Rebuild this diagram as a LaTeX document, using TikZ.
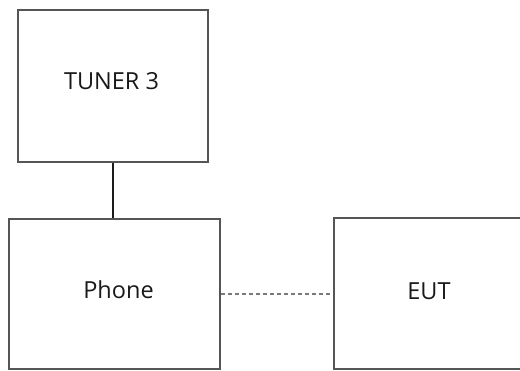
\documentclass[tikz,border=0pt]{standalone}
\usepackage{fontspec}
\setmainfont{Open Sans}
\definecolor{boxgray}{HTML}{555555}
\definecolor{dotgray}{HTML}{7A7A7A}
\definecolor{wirecol}{HTML}{1A1A1A}
\begin{document}
\begin{tikzpicture}[x=1pt,y=-1pt,
  blockbox/.style={draw=boxgray,line width=2pt,inner sep=0pt,anchor=north west},
  lbl/.style={inner sep=0pt,font=\fontsize{23.5}{28}\selectfont,text=black!90},
  wire/.style={draw=wirecol,line width=2.2pt},
  dotwire/.style={draw=dotgray,line width=2pt,dash pattern=on 4pt off 3pt}]
\useasboundingbox (0,0) rectangle (520,370);
\clip (0,0) rectangle (520,370);
\node[blockbox,minimum width=190pt,minimum height=152pt] (tuner) at (17,9) {};
\node[blockbox,minimum width=211pt,minimum height=150pt] (phone) at (8,218) {};
\node[blockbox,minimum width=192pt,minimum height=151pt] (eut) at (333,217) {};
\node[lbl] (tunerlbl) at (111.5,81.5) {TUNER 3};
\node[lbl] (phonelbl) at (118.5,290) {Phone};
\node[lbl] (eutlbl) at (429,291) {EUT};
\draw[wire] (tuner.south) -- (tuner.south |- phone.north);
\draw[dotwire] (phone.east) -- (eut.west |- phone.east);
\end{tikzpicture}
\end{document}
